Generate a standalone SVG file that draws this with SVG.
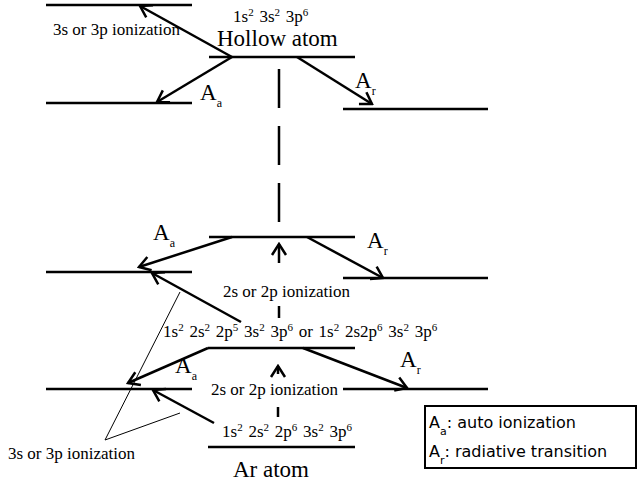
<svg xmlns="http://www.w3.org/2000/svg" width="639" height="487" viewBox="0 0 639 487">
<style>
.lv{stroke:#000;stroke-width:2.5;fill:none}
.ar{stroke:#000;stroke-width:2.5;fill:none;marker-end:url(#arr)}
.thin{stroke:#000;stroke-width:1;fill:none}
.t{font-family:"Liberation Serif","Times New Roman",serif;fill:#000;font-size:17px}
.cfg{word-spacing:1.5px}
.big{font-size:23px}
.sup{font-size:11px;baseline-shift:super}
.sub{font-size:12px;baseline-shift:sub}
.lg{font-family:"DejaVu Sans","Verdana",sans-serif;fill:#000;font-size:16px}
.lsub{font-size:11px;baseline-shift:sub}
</style>
<defs>
<marker id="arr" viewBox="-14 -9 16 18" refX="0" refY="0" markerWidth="16" markerHeight="18" markerUnits="userSpaceOnUse" orient="auto">
<path d="M-11,-7 L0,0 L-11,7" fill="none" stroke="#000" stroke-width="2.5"/>
</marker>
</defs>

<g id="levels">
<g id="lv-top-left"><line class="lv" x1="46" y1="5" x2="192" y2="5"/></g>
<g id="lv-hollow"><line class="lv" x1="209" y1="57" x2="355" y2="57"/></g>
<g id="lv-hollow-left"><line class="lv" x1="46" y1="103" x2="192" y2="103"/></g>
<g id="lv-hollow-right"><line class="lv" x1="343" y1="109" x2="488" y2="109"/></g>
<g id="lv-mid"><line class="lv" x1="209" y1="237" x2="355" y2="237"/></g>
<g id="lv-mid-left"><line class="lv" x1="46" y1="272" x2="192" y2="272"/></g>
<g id="lv-mid-right"><line class="lv" x1="343" y1="278" x2="488" y2="278"/></g>
<g id="lv-low"><line class="lv" x1="208" y1="348" x2="355" y2="348"/></g>
<g id="lv-low-left"><line class="lv" x1="46" y1="389" x2="192" y2="389"/></g>
<g id="lv-low-right"><line class="lv" x1="343" y1="389" x2="488" y2="389"/></g>
<g id="lv-ground"><line class="lv" x1="208" y1="447" x2="355" y2="447"/></g>
</g>

<g id="connectors">
<line class="ar" x1="232" y1="57" x2="140" y2="6"/>
<line class="ar" x1="232" y1="57" x2="157" y2="102"/>
<line class="ar" x1="297" y1="57" x2="372" y2="104"/>
<line class="lv" x1="279" y1="69" x2="279" y2="225" stroke-dasharray="39 18"/>
<line class="ar" x1="232" y1="237" x2="139" y2="267"/>
<line class="ar" x1="307" y1="237" x2="383" y2="278"/>
<line class="ar" x1="279" y1="263" x2="279" y2="244"/>
<line class="lv" x1="279" y1="306" x2="279" y2="318"/>
<line class="ar" x1="241" y1="322" x2="152" y2="273"/>
<line class="ar" x1="208" y1="348" x2="128" y2="383"/>
<line class="ar" x1="303" y1="348" x2="407" y2="388"/>
<line class="ar" x1="278" y1="374" x2="278" y2="366"/>
<line class="lv" x1="278" y1="407" x2="278" y2="417"/>
<line class="ar" x1="214" y1="423" x2="153" y2="390"/>
<polyline class="thin" points="180,292 105,440 180,413"/>
</g>

<g id="labels">
<text class="t cfg" x="233" y="21.5">1s<tspan class="sup">2</tspan> 3s<tspan class="sup">2</tspan> 3p<tspan class="sup">6</tspan></text>
<text class="t big" x="217" y="46">Hollow atom</text>
<text class="t" x="53" y="35">3s or 3p ionization</text>
<text class="t big" x="200" y="100">A<tspan class="sub">a</tspan></text>
<text class="t big" x="355" y="88">A<tspan class="sub">r</tspan></text>
<text class="t big" x="153" y="240">A<tspan class="sub">a</tspan></text>
<text class="t big" x="367" y="248">A<tspan class="sub">r</tspan></text>
<text class="t" x="223" y="297">2s or 2p ionization</text>
<text class="t cfg" x="163" y="337">1s<tspan class="sup">2</tspan> 2s<tspan class="sup">2</tspan> 2p<tspan class="sup">5</tspan> 3s<tspan class="sup">2</tspan> 3p<tspan class="sup">6</tspan> or 1s<tspan class="sup">2</tspan> 2s2p<tspan class="sup">6</tspan> 3s<tspan class="sup">2</tspan> 3p<tspan class="sup">6</tspan></text>
<text class="t big" x="175" y="373">A<tspan class="sub">a</tspan></text>
<text class="t big" x="400" y="367">A<tspan class="sub">r</tspan></text>
<text class="t" x="211" y="395">2s or 2p ionization</text>
<text class="t cfg" x="222" y="437">1s<tspan class="sup">2</tspan> 2s<tspan class="sup">2</tspan> 2p<tspan class="sup">6</tspan> 3s<tspan class="sup">2</tspan> 3p<tspan class="sup">6</tspan></text>
<text class="t big" x="233" y="477">Ar atom</text>
<text class="t" x="8" y="459">3s or 3p ionization</text>
</g>

<g id="legend">
<rect x="425" y="406" width="211" height="62" fill="#fff" stroke="#000" stroke-width="2"/>
<text class="lg" x="429" y="428">A<tspan class="lsub">a</tspan>: auto ionization</text>
<text class="lg" x="429" y="457">A<tspan class="lsub">r</tspan>: radiative transition</text>
</g>
</svg>
